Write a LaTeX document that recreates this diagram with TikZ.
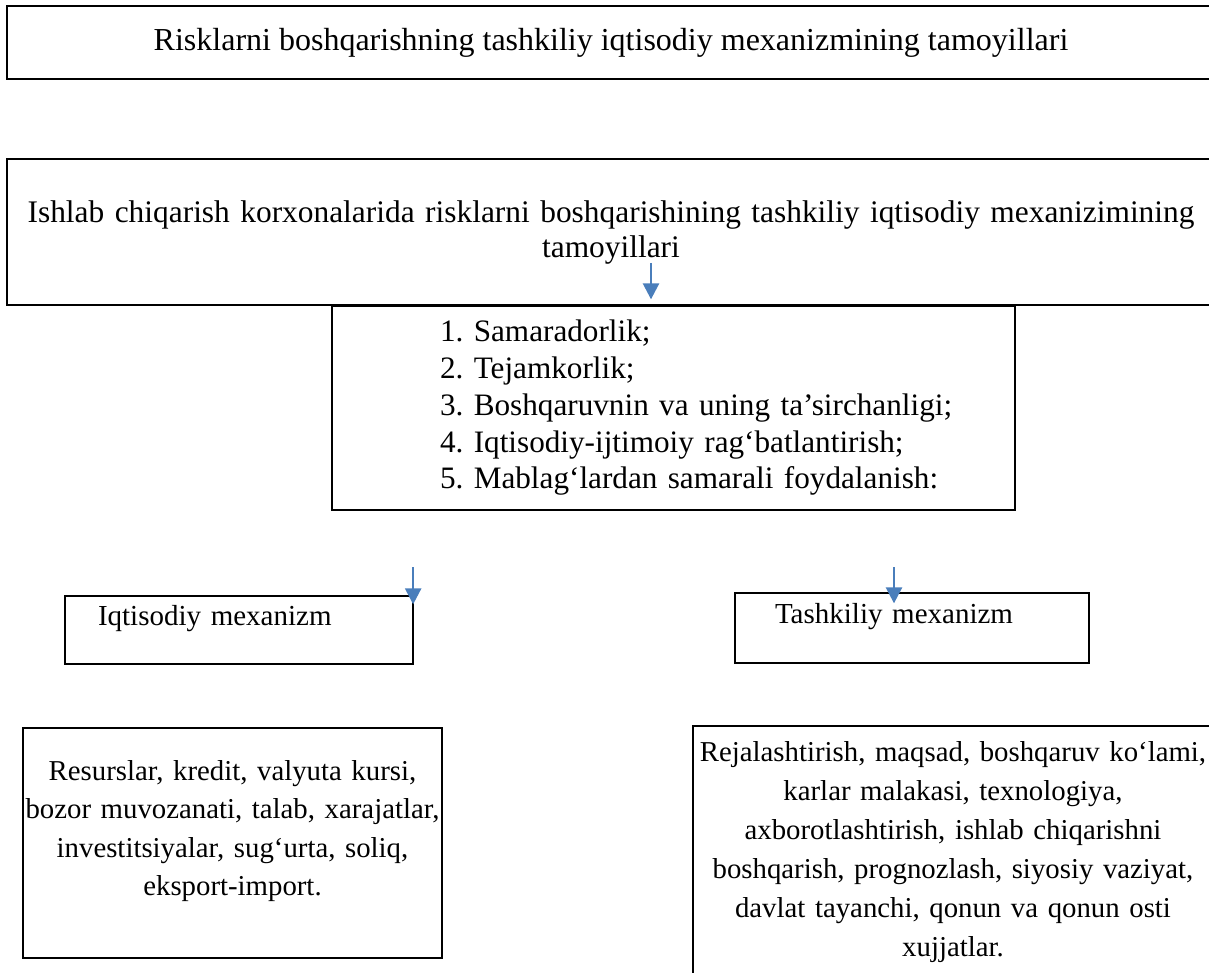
\documentclass[tikz,border=0pt]{standalone}
\usepackage{fontspec}
\setmainfont{Liberation Serif}
\usetikzlibrary{arrows.meta, positioning}
\definecolor{arrowblue}{RGB}{74,126,187}

\begin{document}
\frenchspacing
\begin{tikzpicture}[
  x=1pt, y=1pt,
  box/.style={rectangle, draw, line width=1.3pt, inner sep=0pt,
              font=\fontsize{28.8}{38.5}\selectfont},
  mech/.style={box, minimum height=68, align=left,
               text height=20pt, text depth=30pt,
               font=\fontsize{29}{35}\selectfont},
  flow/.style={-{Triangle[width=16pt, length=16pt]}, line width=2.6pt,
               arrowblue}
]
\useasboundingbox (0,0) rectangle (1209,-973);
% headings
\node[box, minimum width=1208, minimum height=73,
      font=\fontsize{32}{38}\selectfont] (head) at (611,-42.5)
  {Risklarni boshqarishning tashkiliy iqtisodiy mexanizmining tamoyillari};
\node[box, minimum width=1208, minimum height=146, text width=1200,
      align=center, font=\fontsize{31.4}{35}\selectfont] (lead) at (611,-232)
  {Ishlab chiqarish korxonalarida risklarni boshqarishining tashkiliy iqtisodiy mexanizimining\\
   tamoyillari};
% principles
\node[box, minimum width=683, minimum height=204, text width=683,
      align=left, font=\fontsize{31.2}{36.75}\selectfont] (list)
  at (673.5,-408)
  {\hspace*{108pt}\begin{tabular}{@{}l@{}}
   1. Samaradorlik;\\
   2. Tejamkorlik;\\
   3. Boshqaruvnin va uning ta’sirchanligi;\\
   4. Iqtisodiy-ijtimoiy rag‘batlantirish;\\
   5. Mablag‘lardan samarali foydalanish:
   \end{tabular}};
% mechanisms
\node[mech, minimum width=348, text width=348] (econ) at (239,-630)
  {\hspace*{33pt}Iqtisodiy mexanizm};
\node[mech, minimum width=354, text width=354, minimum height=70] (org)
  at (912,-628) {\hspace*{40pt}Tashkiliy mexanizm};
% factors
\node[box, minimum width=419, minimum height=230, text width=419,
      align=center, text height=20pt, text depth=146pt] (res) at (232.5,-843)
  {Resurslar, kredit, valyuta kursi,\\
   bozor muvozanati, talab, xarajatlar,\\
   investitsiyalar, sug‘urta, soliq,\\
   eksport-import.};
\node[box, minimum width=520, minimum height=252, text width=520,
      align=center, font=\fontsize{28.8}{39}\selectfont] (plan) at (953,-852)
  {Rejalashtirish, maqsad, boshqaruv ko‘lami,\\
   karlar malakasi, texnologiya,\\
   axborotlashtirish, ishlab chiqarishni\\
   boshqarish, prognozlash, siyosiy vaziyat,\\
   davlat tayanchi, qonun va qonun osti\\
   xujjatlar.};
% arrows
\coordinate (a1) at (651,-263);
\draw[flow] (a1) -- ([yshift=6pt]a1 |- list.north);
\draw[flow] ([xshift=-0.5pt, yshift=28pt]econ.north east)
  -- ([xshift=-0.5pt, yshift=-9pt]econ.north east);
\draw[flow] ([xshift=-18pt, yshift=25pt]org.north)
  -- ([xshift=-18pt, yshift=-11pt]org.north);
\end{tikzpicture}
\end{document}
